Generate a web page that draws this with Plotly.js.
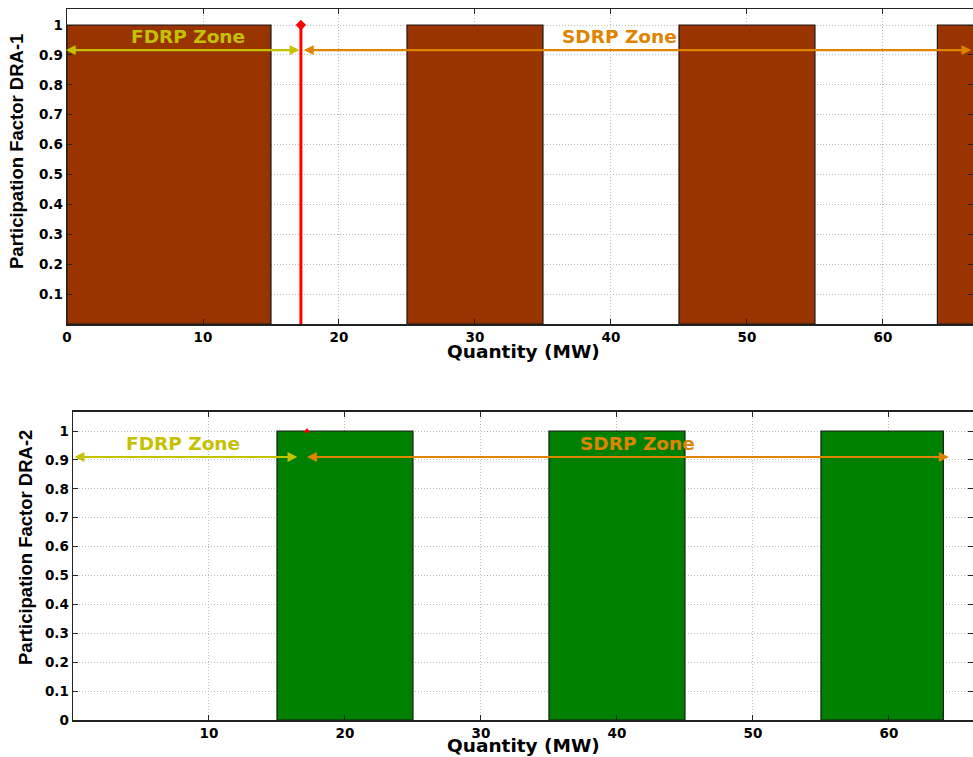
<!DOCTYPE html>
<html>
<head>
<meta charset="utf-8">
<script src="https://cdn.plot.ly/plotly-3.0.1.min.js"></script>
<style>html,body{margin:0;padding:0;background:#fff;}#chart{width:973px;height:757px;}</style>
</head>
<body>
<div id="chart"></div>
<script>
// ---- Data ----
// DRA-1 participation blocks (start / end quantity, MW)
const dra1Start = [0, 25, 45, 64];
const dra1End   = [15, 35, 55, 75];
const dra1PF    = [1, 1, 1, 1];
// DRA-2 participation blocks
const dra2Start = [15, 35, 55];
const dra2End   = [25, 45, 64];
const dra2PF    = [1, 1, 1];
// FDRP / SDRP boundary (MW)
const boundaryQty = 17.2;
// Zone arrow spans [from, to] and height
const fdrpSpan1 = [-0.2, 17.1];
const sdrpSpan1 = [17.3, 66.5];
const arrowY1 = 0.916;
const fdrpSpan2 = [0, 16.5];
const sdrpSpan2 = [17.1, 64.4];
const arrowY2 = 0.91;
// Zone label positions [x, y]
const fdrpLabel1 = [8.9, 0.962];
const sdrpLabel1 = [40.6, 0.962];
const fdrpLabel2 = [8.1, 0.957];
const sdrpLabel2 = [41.5, 0.957];
// Tick labels
const xTicks1 = [0, 10, 20, 30, 40, 50, 60];
const xTicks2 = [10, 20, 30, 40, 50, 60];
const yTicks1 = [0.1, 0.2, 0.3, 0.4, 0.5, 0.6, 0.7, 0.8, 0.9, 1];
const yTicks2 = [0, 0.1, 0.2, 0.3, 0.4, 0.5, 0.6, 0.7, 0.8, 0.9, 1];

const widths = (s, e) => s.map((v, i) => e[i] - v);

const BROWN = '#993300', GREEN = '#008000', YEL = '#c4c200', ORG = '#e08400', RED = '#ff0000';

const traces = [
  { type: 'bar', x: dra1Start, y: dra1PF, width: widths(dra1Start, dra1End), offset: 0,
    marker: { color: BROWN, line: { color: '#1a1a1a', width: 1.2 } }, xaxis: 'x', yaxis: 'y', hoverinfo: 'skip' },
  { type: 'bar', x: dra2Start, y: dra2PF, width: widths(dra2Start, dra2End), offset: 0,
    marker: { color: GREEN, line: { color: '#1a1a1a', width: 1.2 } }, xaxis: 'x2', yaxis: 'y2', hoverinfo: 'skip' },
  { type: 'scatter', mode: 'lines', x: [boundaryQty, boundaryQty], y: [0, 1],
    line: { color: RED, width: 3 }, xaxis: 'x', yaxis: 'y', hoverinfo: 'skip' },
  { type: 'scatter', mode: 'markers', x: [boundaryQty], y: [1],
    marker: { color: RED, symbol: 'diamond', size: 8 }, xaxis: 'x', yaxis: 'y', hoverinfo: 'skip' },
  { type: 'scatter', mode: 'markers', x: [boundaryQty], y: [1],
    marker: { color: RED, symbol: 'triangle-up', size: 6 }, xaxis: 'x2', yaxis: 'y2', hoverinfo: 'skip' }
];

const tickFont = { family: 'DejaVu Sans', size: 13.5, color: '#000', weight: 'bold' };
const commonX = {
  ticks: 'inside', ticklen: 5, tickcolor: '#222', mirror: 'allticks', showline: true,
  linecolor: '#222', linewidth: 1.5, showgrid: true, gridcolor: '#bdbdbd', griddash: '1px,2px',
  gridwidth: 1, zeroline: false, tickfont: tickFont, fixedrange: true
};

function arrow(span, yv, color, xr, yr) {
  return { xref: xr, yref: yr, axref: xr, ayref: yr, x: span[1], y: yv, ax: span[0], ay: yv,
    text: '', showarrow: true, arrowside: 'end+start', arrowhead: 2, startarrowhead: 2,
    arrowsize: 0.9, startarrowsize: 0.9, arrowwidth: 2.2, arrowcolor: color, standoff: 0, startstandoff: 0 };
}
function label(txt, pos, color, xr, yr) {
  return { xref: xr, yref: yr, x: pos[0], y: pos[1], text: txt, showarrow: false,
    xanchor: 'center', yanchor: 'middle',
    font: { family: 'DejaVu Sans', size: 18.5, color: color, weight: 'bold' } };
}
const yTitleFont = { family: 'Liberation Sans', size: 18.5, color: '#000', weight: 'bold' };
const xTitleFont = { family: 'DejaVu Sans', size: 18.5, color: '#000', weight: 'bold' };

const layout = {
  width: 973, height: 757,
  margin: { l: 0, r: 0, t: 0, b: 0 },
  paper_bgcolor: '#fff', plot_bgcolor: '#fff',
  showlegend: false, barmode: 'overlay',
  xaxis: Object.assign({}, commonX, { domain: [67 / 973, 1], range: [0, 66.62], anchor: 'y',
    tickvals: xTicks1 }),
  yaxis: Object.assign({}, commonX, { domain: [1 - 324 / 757, 1 - 9 / 757], range: [0, 1.0535], anchor: 'x',
    tickvals: yTicks1 }),
  xaxis2: Object.assign({}, commonX, { domain: [73 / 973, 1], range: [0, 66.18], anchor: 'y2',
    tickvals: xTicks2 }),
  yaxis2: Object.assign({}, commonX, { domain: [1 - 720 / 757, 1 - 411.7 / 757], range: [0, 1.0668], anchor: 'x2',
    tickvals: yTicks2 }),
  annotations: [
    arrow(fdrpSpan1, arrowY1, YEL, 'x', 'y'),
    arrow(sdrpSpan1, arrowY1, ORG, 'x', 'y'),
    arrow(fdrpSpan2, arrowY2, YEL, 'x2', 'y2'),
    arrow(sdrpSpan2, arrowY2, ORG, 'x2', 'y2'),
    label('FDRP Zone', fdrpLabel1, YEL, 'x', 'y'),
    label('SDRP Zone', sdrpLabel1, ORG, 'x', 'y'),
    label('FDRP Zone', fdrpLabel2, YEL, 'x2', 'y2'),
    label('SDRP Zone', sdrpLabel2, ORG, 'x2', 'y2'),
    { xref: 'paper', yref: 'paper', x: 523.5 / 973, y: 1 - 340 / 757, text: 'Quantity (MW)', borderpad: 0,
      showarrow: false, xanchor: 'center', yanchor: 'top', font: xTitleFont },
    { xref: 'paper', yref: 'paper', x: 523.5 / 973, y: 0, text: 'Quantity (MW)', borderpad: 0,
      showarrow: false, xanchor: 'center', yanchor: 'bottom', font: xTitleFont },
    { xref: 'paper', yref: 'paper', x: 16 / 973, y: 1 - 152 / 757, text: 'Participation Factor DRA-1',
      textangle: -90, showarrow: false, xanchor: 'center', yanchor: 'middle', font: yTitleFont },
    { xref: 'paper', yref: 'paper', x: 25 / 973, y: 1 - 548 / 757, text: 'Participation Factor DRA-2',
      textangle: -90, showarrow: false, xanchor: 'center', yanchor: 'middle', font: yTitleFont }
  ]
};

Plotly.newPlot('chart', traces, layout, { staticPlot: true, displayModeBar: false });
</script>
</body>
</html>
